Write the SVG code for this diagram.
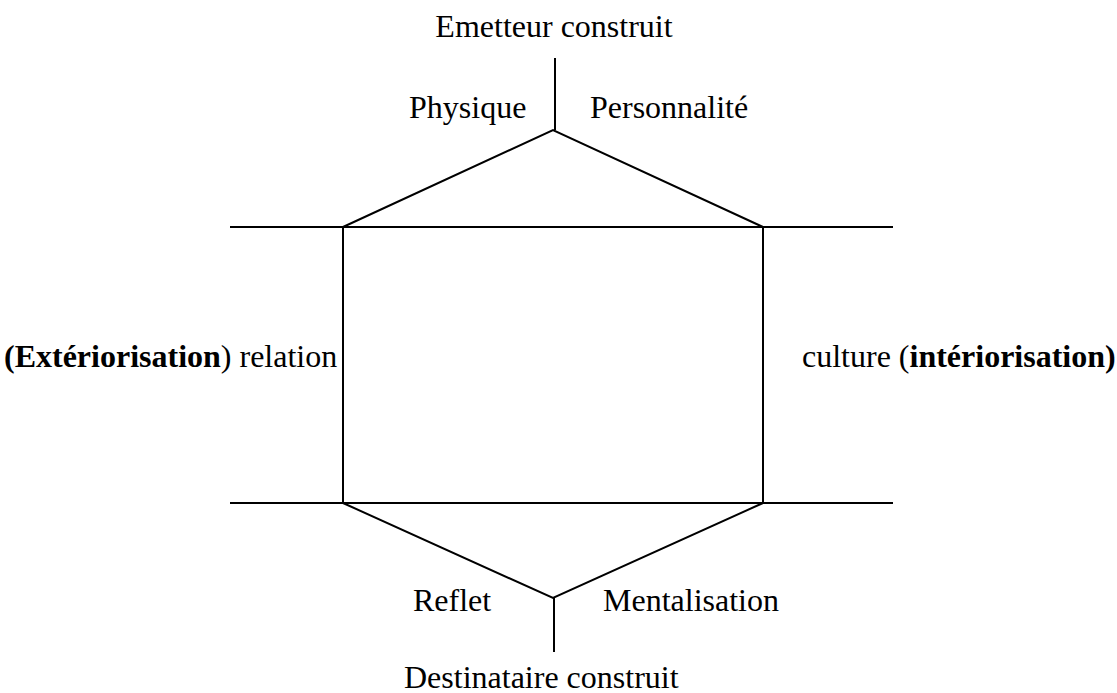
<svg xmlns="http://www.w3.org/2000/svg" width="1117" height="693" viewBox="0 0 1117 693">
  <style>
    .ln { stroke: #000; stroke-width: 2; fill: none; }
    text { font-family: "Liberation Serif", "Times New Roman", serif; font-size: 32px; fill: #000; }
    .b { font-weight: bold; }
  </style>
  <rect width="1117" height="693" fill="#fff"/>
  <g id="connectors">
    <line class="ln" x1="555" y1="58" x2="555" y2="130"/>
    <polyline class="ln" points="343,227 553,130 763,227"/>
    <line class="ln" x1="230" y1="227" x2="893" y2="227"/>
    <line class="ln" x1="343" y1="227" x2="343" y2="503"/>
    <line class="ln" x1="763" y1="227" x2="763" y2="503"/>
    <line class="ln" x1="230" y1="503" x2="893" y2="503"/>
    <polyline class="ln" points="343,503 553,598 763,503"/>
    <line class="ln" x1="554" y1="598" x2="554" y2="652"/>
  </g>
  <g id="emetteur"><text x="554" y="37" text-anchor="middle">Emetteur construit</text></g>
  <g id="physique"><text x="409" y="118">Physique</text></g>
  <g id="personnalite"><text x="590" y="118">Personnalité</text></g>
  <g id="relation"><text x="4" y="367"><tspan class="b">(Extériorisation</tspan>) relation</text></g>
  <g id="culture"><text x="802" y="367">culture (<tspan class="b">intériorisation)</tspan></text></g>
  <g id="reflet"><text x="413" y="611">Reflet</text></g>
  <g id="mentalisation"><text x="603" y="611">Mentalisation</text></g>
  <g id="destinataire"><text x="404" y="688">Destinataire construit</text></g>
</svg>
